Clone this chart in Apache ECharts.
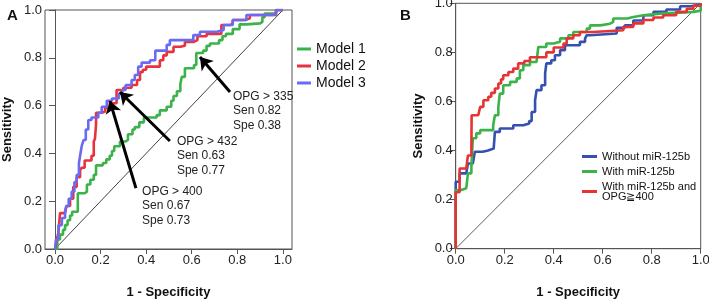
<!DOCTYPE html>
<html>
<head>
<meta charset="utf-8">
<script src="https://cdn.jsdelivr.net/npm/echarts@6/dist/echarts.min.js"></script>
<style>
  html, body { margin: 0; padding: 0; background: #fff; }
  #chart { width: 709px; height: 299px; }
</style>
</head>
<body>
<div id="chart"></div>
<script>
// tick values shared by both panels
const ticks = [0, 0.2, 0.4, 0.6, 0.8, 1.0];

// panel A: ROC curves, [1 - specificity, sensitivity]
const model1 = [[0,0],[0.01,0.04],[0.022,0.06],[0.035,0.08],[0.044,0.10],[0.055,0.12],[0.066,0.14],[0.075,0.156],[0.10,0.233],[0.13,0.24],[0.14,0.27],[0.155,0.29],[0.17,0.31],[0.18,0.35],[0.21,0.36],[0.225,0.375],[0.24,0.39],[0.25,0.41],[0.26,0.43],[0.285,0.45],[0.31,0.456],[0.32,0.48],[0.34,0.50],[0.35,0.51],[0.37,0.53],[0.39,0.55],[0.446,0.56],[0.46,0.58],[0.49,0.595],[0.51,0.62],[0.52,0.64],[0.535,0.66],[0.55,0.69],[0.556,0.72],[0.57,0.756],[0.61,0.77],[0.62,0.82],[0.65,0.83],[0.665,0.85],[0.68,0.86],[0.72,0.874],[0.735,0.89],[0.75,0.90],[0.78,0.92],[0.81,0.94],[0.84,0.944],[0.90,0.95],[0.91,0.97],[0.92,0.985],[0.97,1],[1,1]];
const model2 = [[0,0],[0.008,0.04],[0.015,0.07],[0.022,0.15],[0.044,0.15],[0.05,0.18],[0.066,0.21],[0.08,0.26],[0.095,0.30],[0.11,0.33],[0.117,0.34],[0.13,0.37],[0.16,0.39],[0.17,0.45],[0.175,0.46],[0.18,0.52],[0.18,0.57],[0.205,0.575],[0.22,0.59],[0.24,0.61],[0.27,0.665],[0.30,0.675],[0.336,0.686],[0.36,0.707],[0.373,0.74],[0.385,0.75],[0.40,0.763],[0.46,0.79],[0.475,0.81],[0.49,0.825],[0.52,0.846],[0.55,0.85],[0.57,0.866],[0.607,0.874],[0.625,0.89],[0.665,0.90],[0.73,0.937],[0.77,0.944],[0.78,0.958],[0.835,0.965],[0.855,0.979],[0.97,1],[1,1]];
const model3 = [[0,0],[0.004,0.04],[0.015,0.10],[0.03,0.13],[0.044,0.16],[0.05,0.18],[0.06,0.21],[0.073,0.24],[0.085,0.28],[0.095,0.31],[0.105,0.36],[0.11,0.39],[0.117,0.43],[0.125,0.456],[0.135,0.50],[0.146,0.54],[0.16,0.55],[0.19,0.57],[0.205,0.595],[0.227,0.62],[0.25,0.63],[0.28,0.65],[0.295,0.665],[0.31,0.686],[0.336,0.707],[0.35,0.728],[0.365,0.763],[0.38,0.78],[0.417,0.79],[0.44,0.83],[0.49,0.854],[0.504,0.874],[0.578,0.874],[0.607,0.895],[0.636,0.909],[0.71,0.916],[0.74,0.937],[0.78,0.958],[0.84,0.979],[0.957,0.985],[0.97,1],[1,1]];

// panel B: ROC curves
const withoutMiR = [[0,0],[0,0.273],[0.016,0.307],[0.043,0.307],[0.05,0.347],[0.07,0.354],[0.078,0.395],[0.11,0.40],[0.132,0.408],[0.155,0.415],[0.16,0.476],[0.18,0.49],[0.235,0.503],[0.276,0.51],[0.30,0.52],[0.31,0.557],[0.324,0.605],[0.33,0.646],[0.35,0.666],[0.365,0.714],[0.37,0.755],[0.39,0.768],[0.405,0.788],[0.426,0.809],[0.446,0.829],[0.507,0.843],[0.528,0.857],[0.535,0.87],[0.548,0.877],[0.657,0.90],[0.69,0.91],[0.725,0.93],[0.766,0.951],[0.807,0.965],[0.86,0.975],[0.916,0.988],[0.96,0.995],[1,1]];
const withMiR = [[0,0],[0,0.239],[0.023,0.246],[0.043,0.25],[0.05,0.307],[0.064,0.33],[0.07,0.45],[0.084,0.47],[0.10,0.483],[0.153,0.503],[0.16,0.544],[0.174,0.578],[0.18,0.632],[0.194,0.666],[0.222,0.68],[0.249,0.694],[0.262,0.727],[0.276,0.748],[0.303,0.761],[0.33,0.768],[0.337,0.822],[0.37,0.836],[0.40,0.843],[0.426,0.857],[0.46,0.87],[0.48,0.883],[0.535,0.897],[0.548,0.91],[0.59,0.917],[0.63,0.924],[0.643,0.938],[0.70,0.944],[0.725,0.951],[0.766,0.958],[0.834,0.965],[0.97,0.97],[1,1]];
const withMiROpg = [[0,0],[0,0.23],[0.016,0.327],[0.043,0.334],[0.05,0.38],[0.064,0.40],[0.065,0.544],[0.092,0.544],[0.10,0.578],[0.113,0.605],[0.133,0.619],[0.145,0.635],[0.16,0.653],[0.174,0.673],[0.185,0.69],[0.194,0.707],[0.215,0.72],[0.235,0.734],[0.255,0.755],[0.28,0.765],[0.303,0.78],[0.37,0.80],[0.40,0.82],[0.44,0.836],[0.453,0.857],[0.48,0.87],[0.507,0.883],[0.56,0.89],[0.684,0.904],[0.725,0.918],[0.766,0.932],[0.807,0.942],[0.847,0.951],[0.90,0.965],[0.943,0.978],[0.97,0.99],[1,1]];

// reference diagonal
const diagonal = [[0,0],[1,1]];

// cut-off annotations in panel A: arrow tail -> tip, text block top-left
const cutoffText = [
  'OPG > 335\nSen 0.82\nSpe 0.38',
  'OPG > 432\nSen 0.63\nSpe 0.77',
  'OPG > 400\nSen 0.67\nSpe 0.73'
];
const arrowTail = [[0.768,0.657],[0.504,0.452],[0.355,0.255]];
const arrowTip = [[0.636,0.803],[0.285,0.657],[0.241,0.619]];
const textPos = [[0.781,0.669],[0.535,0.481],[0.382,0.272]];

const chart = echarts.init(document.getElementById('chart'), null, { renderer: 'canvas' });

const font = 'Liberation Sans, Arial, sans-serif';

function xAxisCfg(idx, min, max) {
  return {
    type: 'value', gridIndex: idx, min: min, max: max,
    name: '1 - Specificity', nameLocation: 'middle', nameGap: 37,
    nameTextStyle: { fontFamily: font, fontSize: 13, fontWeight: 'bold', color: '#111' },
    axisLine: { show: true, lineStyle: { color: '#555', width: 1 } },
    axisTick: { show: true, length: 5, customValues: ticks, lineStyle: { color: '#555' } },
    axisLabel: { customValues: ticks, margin: 5, fontFamily: font, fontSize: 13, color: '#222',
      formatter: v => v.toFixed(1) },
    splitLine: { show: false }
  };
}
function yAxisCfg(idx) {
  return {
    type: 'value', gridIndex: idx, min: 0, max: 1, interval: 0.2,
    name: 'Sensitivity', nameLocation: 'middle', nameGap: 31,
    nameTextStyle: { fontFamily: font, fontSize: 13, fontWeight: 'bold', color: '#111' },
    axisLine: { show: true, lineStyle: { color: '#555', width: 1 } },
    axisTick: { show: true, length: 6, lineStyle: { color: '#555' } },
    axisLabel: { margin: 3, fontFamily: font, fontSize: 13, color: '#222',
      formatter: v => v.toFixed(1) },
    splitLine: { show: false }
  };
}

function roc(name, data, color, xi) {
  return {
    name: name, type: 'line', xAxisIndex: xi, yAxisIndex: xi,
    data: data, step: 'end', showSymbol: false, symbol: 'none',
    lineStyle: { color: color, width: 2.6 }, itemStyle: { color: color },
    emphasis: { disabled: true }, z: 3
  };
}

const option = {
  animation: false,
  backgroundColor: '#fff',
  title: [
    { text: 'A', left: 2, top: 3, textStyle: { fontFamily: font, fontSize: 15, fontWeight: 'bold', color: '#111' } },
    { text: 'B', left: 395, top: 3, textStyle: { fontFamily: font, fontSize: 15, fontWeight: 'bold', color: '#111' } }
  ],
  grid: [
    { left: 45, top: 10, width: 247, height: 239, show: true, borderColor: '#555', borderWidth: 1,
      containLabel: false, outerBoundsMode: 'none' },
    { left: 455.7, top: 3.3, width: 245, height: 245.4, show: true, borderColor: '#555', borderWidth: 1,
      containLabel: false, outerBoundsMode: 'none' }
  ],
  xAxis: [xAxisCfg(0, -0.044, 1.04), xAxisCfg(1, 0, 1)],
  yAxis: [yAxisCfg(0), yAxisCfg(1)],
  legend: [
    { data: ['Model 1', 'Model 2', 'Model 3'], orient: 'vertical', left: 292, top: 37,
      icon: 'rect', itemWidth: 14, itemHeight: 3, itemGap: 3,
      textStyle: { fontFamily: font, fontSize: 14, color: '#111' } },
    { data: ['Without miR-125b', 'With miR-125b', 'With miR-125b and OPG≧400'], orient: 'vertical', left: 577, top: 146,
      icon: 'rect', itemWidth: 15, itemHeight: 3, itemGap: 4,
      formatter: name => name.replace(' OPG', '\nOPG'),
      textStyle: { fontFamily: font, fontSize: 11, lineHeight: 10, color: '#111' } }
  ],
  series: [
    {
      type: 'line', xAxisIndex: 0, yAxisIndex: 0, data: diagonal, symbol: 'none',
      lineStyle: { color: '#111', width: 0.8 }, emphasis: { disabled: true }, z: 2,
      markLine: {
        silent: true, symbol: ['none', 'arrow'], symbolSize: 12, precision: 4,
        label: { show: false },
        lineStyle: { color: '#000', width: 3, type: 'solid' },
        data: arrowTail.map((t, i) => [{ coord: t }, { coord: arrowTip[i] }])
      },
      markPoint: {
        silent: true, symbol: 'rect', symbolSize: 0,
        label: { show: true, position: [0, 0], align: 'left', verticalAlign: 'top',
          fontFamily: font, fontSize: 12, lineHeight: 14.5, color: '#222',
          formatter: p => p.data.value },
        data: textPos.map((c, i) => ({ coord: c, value: cutoffText[i] }))
      }
    },
    roc('Model 1', model1, '#3bb34a', 0),
    roc('Model 2', model2, '#e8323c', 0),
    roc('Model 3', model3, '#6b6bf2', 0),
    {
      type: 'line', xAxisIndex: 1, yAxisIndex: 1, data: diagonal, symbol: 'none',
      lineStyle: { color: '#333', width: 0.8 }, emphasis: { disabled: true }, z: 2
    },
    roc('Without miR-125b', withoutMiR, '#3550b0', 1),
    roc('With miR-125b', withMiR, '#3bb34a', 1),
    roc('With miR-125b and OPG≧400', withMiROpg, '#e83333', 1)
  ]
};

chart.setOption(option);
</script>
</body>
</html>
